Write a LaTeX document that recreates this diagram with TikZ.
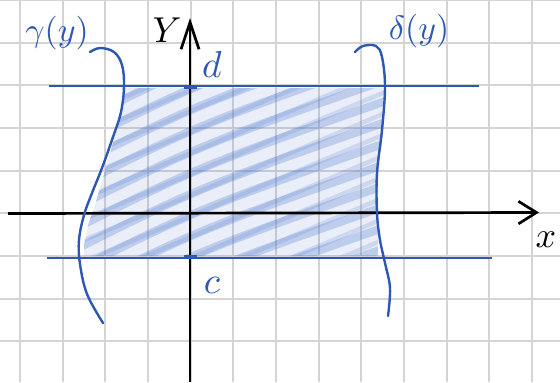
\documentclass[tikz,border=0pt]{standalone}
\usetikzlibrary{arrows.meta}
\definecolor{pen}{RGB}{44,88,178}
\definecolor{gridc}{RGB}{212,212,212}
\definecolor{shadec}{RGB}{80,120,205}
\begin{document}
\begin{tikzpicture}[x=0.0234375cm,y=-0.0234375cm,
  gridline/.style={gridc, line width=1.3pt},
  axis/.style={black, line width=1.8pt},
  bound/.style={pen, line width=1.9pt},
  curve/.style={pen, line width=1.6pt, line cap=round},
  tick/.style={pen, line width=3pt},
  lab/.style={pen, scale=2.25, inner sep=0pt},
  biglab/.style={pen, scale=2.5, inner sep=0pt},
  alab/.style={black, scale=2.4, inner sep=0pt},
  stripe/.style={shadec, line width=5.5pt, opacity=0.28, line cap=round},
  stripeb/.style={shadec, line width=3pt, opacity=0.18, line cap=round}]
\useasboundingbox (0,0) rectangle (560,382);
\fill[white] (0,0) rectangle (560,382);
\foreach \i in {0,...,12} \draw[gridline] ({20+42.667*\i},0) -- ({20+42.667*\i},382);
\foreach \j in {0,...,8} \draw[gridline] (0,{42.667*\j}) -- (560,{42.667*\j});
% shaded region
\begin{scope}
\clip (125,88) -- (384,88) -- (383,130) -- (378,175) -- (378,256) -- (84,256) -- (84,245) -- (88,225) -- (95,205) -- (108,160) -- (118,125) -- cycle;
\fill[shadec, opacity=0.12] (0,0) rectangle (560,382);
\foreach \k in {0,...,14} \draw[stripe] (60,{110+21*\k}) .. controls (200,{110+21*\k-70}) .. (400,{110+21*\k-140});
\foreach \k in {0,...,14} \draw[stripeb] (70,{120+21*\k}) -- (390,{120+21*\k-135});
\end{scope}
% bounds c and d
\coordinate (dl) at (49,86); \coordinate (dr) at (479,86);
\coordinate (cl) at (47,258); \coordinate (cr) at (492,258);
\draw[bound] (dl) -- (dr);
\draw[bound] (cl) -- (cr);
% axes
\coordinate (xl) at (8,213.5); \coordinate (xr) at (539,212.5);
\coordinate (yb) at (190,382); \coordinate (yt) at (190,18);
\draw[axis, -{Straight Barb[length=12pt,width=15pt]}] (xl) -- (xr);
\draw[axis, -{Straight Barb[length=18pt,width=12pt]}] (yb) -- (yt);
% ticks
\coordinate (dt1) at (184,87); \coordinate (dt2) at (197,87);
\coordinate (ct1) at (184,257); \coordinate (ct2) at (197,257);
\draw[tick] (dt1) -- (dt2);
\draw[tick] (ct1) -- (ct2);
% gamma curve
\draw[curve] plot[smooth, tension=0.6] coordinates {(90,52) (100,48) (114,52) (122,65) (124,86) (121,112) (113,137) (102,168) (92,193) (84,215) (79,240) (80,264) (87,294) (103,323)};
% delta curve
\draw[curve] plot[smooth, tension=0.6] coordinates {(355,52) (363,46) (376,46) (382,57) (385,87) (382,130) (377,173) (377,213) (380,240) (385,263) (390,288) (388,316)};
% labels
\node[lab] (gam) at (57,33) {$\gamma(y)$};
\node[lab] (del) at (419,31) {$\delta(y)$};
\node[biglab] (dlab) at (212,64) {$d$};
\node[biglab] (clab) at (212,285) {$c$};
\node[alab] (ylab) at (167,30) {$Y$};
\node[alab] (xlab) at (546,240) {$x$};
\end{tikzpicture}
\end{document}
